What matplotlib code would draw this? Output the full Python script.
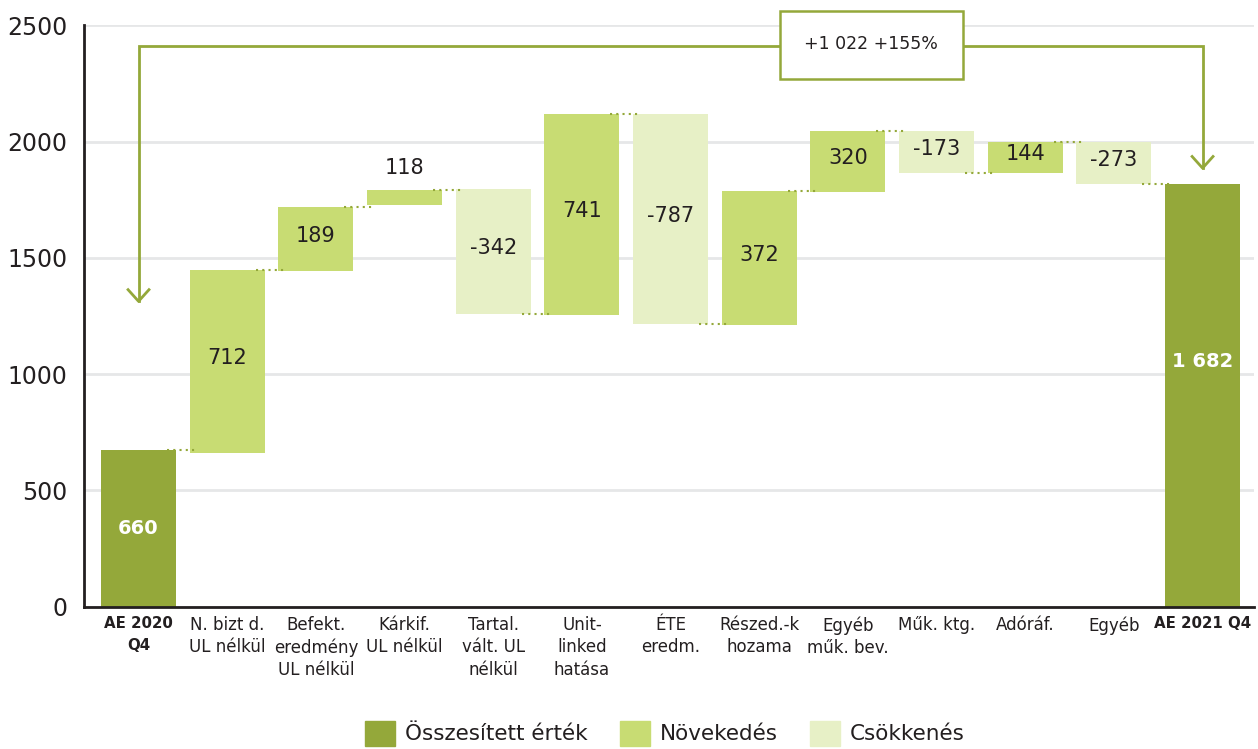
import matplotlib
matplotlib.use("Agg")
import matplotlib.pyplot as plt
from matplotlib.patches import Patch, Rectangle

plt.rcParams['font.family'] = ['DejaVu Sans']

# categories (x labels)
labels = ["AE 2020\nQ4", "N. bizt d.\nUL nélkül", "Befekt.\neredmény\nUL nélkül",
          "Kárkif.\nUL nélkül", "Tartal.\nvált. UL\nnélkül", "Unit-\nlinked\nhatása",
          "ÉTE\neredm.", "Részed.-k\nhozama", "Egyéb\nműk. bev.", "Műk. ktg.",
          "Adóráf.", "Egyéb", "AE 2021 Q4"]

# bar extents as drawn in the picture
bottoms = [0, 659, 1444, 1727, 1259, 1254, 1216, 1211, 1783, 1865, 1865, 1818, 0]
tops = [673, 1449, 1717, 1791, 1795, 2117, 2117, 1786, 2044, 2044, 1997, 1997, 1816]
kinds = ["total", "inc", "inc", "inc", "dec", "inc", "dec", "inc", "inc", "dec", "inc", "dec", "total"]
value_text = ["660", "712", "189", "118", "-342", "741", "-787", "372", "320", "-173",
              "144", "-273", "1 682"]
change_text = "+1 022 +155%"

DARK = "#94a83a"
INC = "#c8dc73"
DEC = "#e7f0c6"
TXT = "#231f20"
col_map = {"total": DARK, "inc": INC, "dec": DEC}

fig = plt.figure(figsize=(12.58, 7.49), dpi=100)
ax = fig.add_axes([84 / 1258, 1 - 606.5 / 749, (1254 - 84) / 1258, (606.5 - 25.4) / 749])

x = list(range(len(labels)))
heights = [t - b for t, b in zip(tops, bottoms)]
ax.bar(x, heights, bottom=bottoms, width=0.846,
       color=[col_map[k] for k in kinds], zorder=2)

# dotted connectors
for i in range(len(x) - 1):
    level = bottoms[i] if kinds[i] == "dec" else tops[i]
    ax.plot([i + 0.32, i + 0.67], [level, level], color=DARK, lw=1.5,
            linestyle=(0, (1, 2)), zorder=3)

# value labels
for i in range(len(x)):
    mid = (bottoms[i] + tops[i]) / 2
    if heights[i] < 100:
        ax.text(i, tops[i] + 95, value_text[i], ha="center", va="center",
                fontsize=15, color=TXT)
    elif kinds[i] == "total":
        y = mid if i == 0 else tops[i] * 0.58
        ax.text(i, y, value_text[i], ha="center", va="center",
                fontsize=14, color="white", fontweight="bold")
    else:
        ax.text(i, mid + 15, value_text[i], ha="center", va="center",
                fontsize=15, color=TXT)

# bracket arrow with change box
bracket_y = 2412
left_tip = 1313
right_tip = 1886
ax.plot([0, 0, 12, 12], [left_tip, bracket_y, bracket_y, right_tip],
        color=DARK, lw=2, clip_on=False, zorder=4, solid_joinstyle="miter")
for xt, yt in [(0, left_tip), (12, right_tip)]:
    ax.plot([xt - 0.118, xt, xt + 0.118], [yt + 50, yt, yt + 50],
            color=DARK, lw=2, clip_on=False, zorder=4)
ax.add_patch(Rectangle((7.23, 2268), 2.07, 293, facecolor="white", edgecolor=DARK,
                       lw=1.8, clip_on=False, zorder=5))
ax.text(8.265, 2418, change_text, ha="center", va="center", fontsize=12.5,
        color=TXT, zorder=6, clip_on=False)

ax.set_xlim(-0.615, 12.58)
ax.set_ylim(0, 2500)
ax.set_yticks([0, 500, 1000, 1500, 2000, 2500])
ax.yaxis.grid(True, color="#e6e7e8", lw=2)
ax.set_axisbelow(True)
ax.tick_params(axis="y", length=0, pad=12, labelsize=17, labelcolor=TXT)
ax.set_xticks(x)
ax.set_xticklabels(labels)
ax.tick_params(axis="x", length=0, pad=7, labelsize=12, labelcolor=TXT)
for i, t in enumerate(ax.get_xticklabels()):
    t.set_linespacing(1.3)
    if kinds[i] == "total":
        t.set_fontweight("bold")
        t.set_fontsize(10.8)
        t.set_linespacing(1.6)

for s in ["top", "right"]:
    ax.spines[s].set_visible(False)
for s in ["left", "bottom"]:
    ax.spines[s].set_color(TXT)
    ax.spines[s].set_linewidth(2)

handles = [Patch(color=DARK, label="Összesített érték"),
           Patch(color=INC, label="Növekedés"),
           Patch(color=DEC, label="Csökkenés")]
fig.legend(handles=handles, loc="center", bbox_to_anchor=(0.5286, 0.021),
           ncol=3, frameon=False, fontsize=15.5, handlelength=1.4, handleheight=1.4,
           handletextpad=0.46, columnspacing=1.5, labelcolor=TXT)

fig.savefig("out.png", dpi=100)
